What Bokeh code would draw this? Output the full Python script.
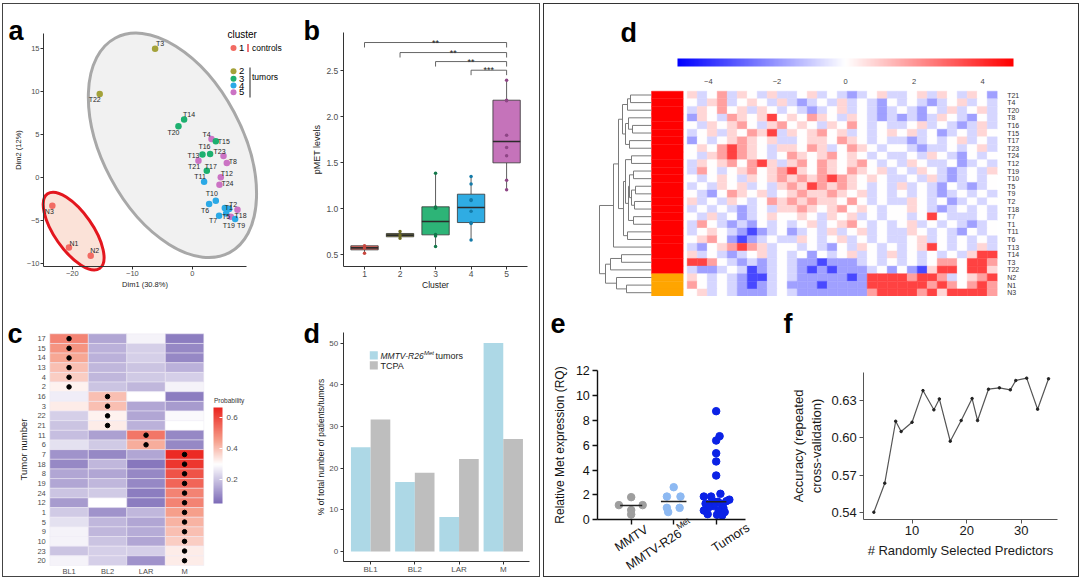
import numpy as np
from bokeh.plotting import figure
from bokeh.models import (Range1d, LinearAxis, FixedTicker, Label, ColorBar, Spacer,
                          LinearColorMapper, NumeralTickFormatter, ColumnDataSource)
from bokeh.layouts import row, column
from bokeh.embed import file_html
from bokeh.resources import INLINE
from bokeh.core.properties import value

FONT = "Liberation Sans"

# ================= DATA =================
# --- a: PCA ---
pca_names = ["T3", "T22", "T14", "T20", "T4", "T15", "T16", "T21", "T23", "T13",
             "T8", "T17", "T12", "T24", "T11", "T10", "T6", "T1", "T2", "T5",
             "T18", "T7", "T19", "T9", "N3", "N1", "N2"]
pca_dim1 = [-6.22, -15.44, -1.39, -2.33, 3.17, 3.89, 1.67, 2.94, 5.17, 1.00,
            5.72, 2.39, 4.72, 4.50, 1.94, 3.89, 2.78, 5.39, 6.11, 5.61,
            7.50, 4.44, 6.39, 7.11, -23.33, -20.56, -16.94]
pca_dim2 = [14.92, 9.69, 6.71, 5.93, 4.46, 4.19, 2.64, 2.71, 2.48, 1.94,
            1.67, 0.78, 0.00, -0.85, -0.50, -2.71, -3.10, -3.57, -3.68, -4.19,
            -3.76, -4.46, -4.57, -4.84, -3.29, -8.14, -9.11]
pca_cluster = [2, 2, 3, 3, 5, 3, 3, 3, 5, 5,
               5, 3, 5, 5, 4, 4, 4, 4, 4, 4,
               5, 4, 5, 4, 1, 1, 1]
cluster_ids = [1, 2, 3, 4, 5]
ellipse_cx = [-3.33, -19.78]
ellipse_cy = [3.72, -6.24]

# --- b: pMET per cluster ---
box_q1 = [0.554, 0.696, 0.717, 0.851, 1.500]
box_med = [0.576, 0.714, 0.862, 1.014, 1.732]
box_q3 = [0.598, 0.732, 1.022, 1.159, 2.181]
box_lo = [0.518, 0.681, 0.590, 0.660, 1.207]
box_hi = [0.598, 0.754, 1.388, 1.351, 2.399]
pmet_cluster = [1, 1, 1, 2, 2, 2, 3, 3, 3, 3, 3, 3, 4, 4, 4, 4, 4, 4, 4, 4,
                5, 5, 5, 5, 5, 5, 5, 5]
pmet_value = [0.598, 0.575, 0.518, 0.754, 0.714, 0.681,
              1.388, 1.020, 1.005, 0.720, 0.705, 0.590,
              1.351, 1.270, 1.100, 1.090, 0.975, 0.850, 0.840, 0.660,
              2.399, 2.181, 2.175, 1.800, 1.667, 1.576, 1.312, 1.207]
sig_from = [1, 2, 3, 4]
sig_to = [5, 5, 5, 5]
sig_y = [2.808, 2.699, 2.601, 2.507]
sig_text = ["**", "**", "**", "***"]

# --- c: subtype probabilities ---
tumor_ids = ["17", "15", "14", "13", "4", "2", "16", "3", "22", "21", "11", "6",
             "7", "18", "8", "19", "24", "12", "1", "5", "9", "10", "23", "20"]
subtypes = ["BL1", "BL2", "LAR", "M"]
prob_BL1 = [0.50, 0.47, 0.44, 0.40, 0.38, 0.32, 0.27, 0.33, 0.22, 0.20, 0.19, 0.25,
            0.12, 0.10, 0.15, 0.15, 0.20, 0.13, 0.21, 0.25, 0.28, 0.28, 0.20, 0.28]
prob_BL2 = [0.15, 0.17, 0.17, 0.18, 0.18, 0.20, 0.40, 0.40, 0.32, 0.33, 0.14, 0.21,
            0.10, 0.18, 0.15, 0.18, 0.21, 0.30, 0.12, 0.18, 0.18, 0.20, 0.22, 0.22]
prob_LAR = [0.28, 0.22, 0.22, 0.20, 0.21, 0.18, 0.30, 0.15, 0.15, 0.17, 0.52, 0.43,
            0.15, 0.07, 0.10, 0.10, 0.08, 0.08, 0.18, 0.15, 0.16, 0.15, 0.22, 0.12]
prob_M = [0.08, 0.10, 0.10, 0.17, 0.22, 0.28, 0.08, 0.13, 0.29, 0.30, 0.10, 0.10,
          0.65, 0.63, 0.58, 0.55, 0.50, 0.50, 0.45, 0.42, 0.40, 0.38, 0.33, 0.33]

# --- d (left): subtype distribution ---
tnbc_types = ["BL1", "BL2", "LAR", "M"]
pct_mmtv = [25.0, 16.7, 8.3, 50.0]
pct_tcpa = [31.7, 18.9, 22.2, 27.0]

# --- d (right): expression heatmap ---
heat_rows = ["T21", "T4", "T20", "T8", "T16", "T15", "T17", "T23", "T24", "T12",
             "T19", "T10", "T5", "T9", "T2", "T18", "T7", "T1", "T11", "T6",
             "T13", "T14", "T3", "T22", "N2", "N1", "N3"]
heat_group = ["T"] * 24 + ["N"] * 3
heat_code_value = {"B": -3.5, "b": -1.8, "l": -0.8, ".": 0.0, "p": 0.8, "r": 1.8, "R": 3.6}
heat_codes = [
    "pl.rlp.lpl" "l.pl.lbl.pl" "l.plp.lp.b",
    ".lprl.p.lp" "lbl.lpl.lb." "l.lbl.pl.l",
    "lp.r.plp.l" ".lbl.pl.lbl" ".lb.lpl.pl",
    "bp.lrp.pR." "p.rp.lp.lbl" "blblp.lb.l",
    ".lp.pr.lpr" ".p.lp.r.l.l" "l.pl.lblpl",
    "l.plp.rpRl" "p.pr.pl.l.p" ".pl.bl.lp.",
    "b.l.prp.pl" "l.pp.rp.l.l" "lbl.l.pl.l",
    ".p.rRrp.lp" "p.rpl.rp.l." ".lbll.l.pl",
    ".lprRrp.l." "rp.pr.p.l.l" "l.lp.lb.l.",
    "lp.pr.rRpl" "pr.rp.pr.l." "lp.ll.bl.l",
    "lr.l.pr.pr" "Rp.rp.rp.pl" ".lp.lbl.lp",
    ".l.p.lp.pr" "prprRrp.p.l" "l.lplbl.l.",
    "l.lp.pl.lp" "rpRrprp.l.l" "pl.lb.lbl.",
    ".lb.rp.pl." "prpprp.pl.l" ".l.lbl.l.l",
    "pl.lp.l.rp" "rprpp.r.l.l" "lp.l.bl.l.",
    "l.l.lbl.lp" "prp.pr.p.l." ".p.lbl.l.l",
    ".lpl.bl.p." ".p.lp.pl.l." ".l.R.lll.l",
    "lr.lblb.l." "l.pl.pr.l.l" ".pl.l.lbl.",
    "l.p.lbBbl." "bl.lpl.pl.l" "lp.l.lb.l.",
    ".pr.bBbl.l" "lp.l.pl.l.l" "l.pl.l.l.l",
    "lb.prRrpl." ".l.lb.lp.l." "l.pR.l.lpl",
    "pl.lbl.pl." "l.b.l.pl.lp" "l.l.l.lpRR",
    "RRr.lblbl." "lbbBbbbl.l." "l.l.rr.RRr",
    "lbbl.lBbl." "lbBbBbbbl.b" ".bBpRR.RRp",
    "p.l.lbBBl." "lbbbbbBbRRR" "RrRRrl.prR",
    "r.l.lbBbl." "bbbBbbbbRRR" "RRRrRr.rRr",
    ".pl.lbbbl." "lbbbbbbbrRR" "RRrRpRRRRr",
]
# hierarchical merges (child a, child b, height); leaves 0..26 in display order
dendro_merges = [
    (0, 1, 21), (27, 2, 24), (4, 5, 19), (3, 29, 23), (6, 7, 22), (30, 31, 26),
    (28, 32, 29), (8, 9, 20), (10, 11, 18), (12, 13, 16), (14, 15, 17), (36, 37, 20),
    (35, 38, 22), (16, 17, 18), (39, 40, 23), (34, 41, 26), (18, 19, 24), (42, 43, 28),
    (33, 44, 33), (45, 20, 38), (21, 22, 30), (47, 23, 41), (25, 26, 25), (24, 49, 35),
    (48, 50, 46), (46, 51, 52),
]

# --- e: Met expression ---
expr_groups = ["MMTV", "MMTV-R26Met", "Tumors"]
expr_mmtv = [1.82, 1.18, 1.18, 0.78, 0.43]
expr_mmtv_dx = [0.0, -0.29, 0.27, 0.0, 0.0]
expr_r26 = [2.62, 1.87, 1.87, 0.96, 0.96, 0.62]
expr_r26_dx = [0.0, -0.16, 0.16, -0.16, 0.14, -0.13]
expr_tum = [8.73, 6.72, 6.37, 5.35, 4.69, 3.56, 2.09, 1.87, 1.87, 1.62, 1.55, 1.50,
            1.45, 1.30, 1.29, 1.10, 1.02, 0.95, 0.75, 0.72, 0.62, 0.45, 0.40, 0.35]
expr_tum_dx = [0.0, 0.08, 0.0, 0.0, 0.0, 0.0, 0.10, -0.12, -0.29, 0.31, -0.09, 0.24,
               0.04, -0.25, 0.12, -0.05, -0.17, 0.17, -0.29, 0.06, 0.20, -0.20, 0.02, 0.14]
expr_center = [1.15, 1.47, 1.45]

# --- f: accuracy vs mtry ---
mtry = [3, 5, 7, 8, 10, 12, 14, 15, 17, 19, 21, 22, 24, 26, 28, 29, 31, 33, 35]
accuracy = [0.540, 0.5634, 0.6133, 0.605, 0.6125, 0.638, 0.6225, 0.6313, 0.5972, 0.6139,
            0.6316, 0.6139, 0.6391, 0.6402, 0.6386, 0.6461, 0.648, 0.623, 0.6475]


# ================= HELPERS =================
def make_fig(w, h, box, xr, yr, axes=True):
    """Frame fills the whole canvas; axes are pinned to the edges of `box`."""
    fl, fr, ft, fb = box
    sx = (xr[1] - xr[0]) / (fr - fl)
    sy = (yr[1] - yr[0]) / (fb - ft)
    X0, X1 = xr[0] - fl * sx, xr[1] + (w - fr) * sx
    Y0, Y1 = yr[0] - (h - fb) * sy, yr[1] + ft * sy
    kw = {} if axes else dict(x_axis_location=None, y_axis_location=None)
    p = figure(width=w, height=h, x_range=Range1d(X0, X1), y_range=Range1d(Y0, Y1),
               output_backend="svg", toolbar_location=None, title=None,
               min_border_left=0, min_border_right=0, min_border_top=0,
               min_border_bottom=0, **kw)
    p.outline_line_color = None
    p.grid.visible = False
    if axes:
        p.xaxis.fixed_location = yr[0]
        p.xaxis.bounds = tuple(xr)
        p.yaxis.fixed_location = xr[0]
        p.yaxis.bounds = tuple(yr)
    return p, (w, h, (X0, X1), (Y0, Y1))


def to_data(g, x, y):
    w, h, (x0, x1), (y0, y1) = g
    return x0 + x / w * (x1 - x0), y1 - y / h * (y1 - y0)


def add_label(p, g, x, y, text, size, style="normal", align="left",
              baseline="alphabetic", color="black", angle=0.0):
    dx, dy = to_data(g, x, y)
    p.add_layout(Label(x=dx, y=dy, text=text, text_font=FONT,
                       text_font_size=f"{size}px", text_font_style=style,
                       text_align=align, text_baseline=baseline,
                       text_color=color, angle=angle))


def letter(p, g, x, y, ch):
    add_label(p, g, x, y, ch, 27, style="bold")


def style_axes(p, tick_px, label_px, tick_color="#4d4d4d", label_color="#1a1a1a",
               line_color="#333333", tick_out=3, lab_sd=2, ax_sd=2, lw=1.0):
    for ax in p.axis:
        ax.axis_label_text_font = FONT
        ax.axis_label_text_font_style = "normal"
        ax.axis_label_text_font_size = f"{label_px}px"
        ax.axis_label_text_color = label_color
        ax.axis_label_standoff = ax_sd
        ax.major_label_text_font = FONT
        ax.major_label_text_font_size = f"{tick_px}px"
        ax.major_label_text_color = tick_color
        ax.major_label_standoff = lab_sd
        ax.minor_tick_line_color = None
        ax.major_tick_in = 0
        ax.major_tick_out = tick_out
        ax.axis_line_color = line_color
        ax.axis_line_width = lw
        ax.major_tick_line_color = line_color
        ax.major_tick_line_width = lw


def interp_palette(stops, n=256):
    pos = np.array([s[0] for s in stops])
    cols = np.array([s[1] for s in stops], dtype=float)
    out = []
    for ti in np.linspace(0, 1, n):
        rgb = [np.interp(ti, pos, cols[:, k]) for k in range(3)]
        out.append("#%02x%02x%02x" % tuple(int(round(v)) for v in rgb))
    return out


cl_colors = ["#F26B63", "#A3A23A", "#1DB06F", "#2BA9E6", "#CB73C4"]
box_fill = ["#E8645C", "#9C9B3A", "#22B070", "#24A8E2", "#C26CB6"]
pt_dark = ["#C8473F", "#6F6E1F", "#12784A", "#137AA8", "#8E4685"]

# ================= PANEL a =================
pa, ga = make_fig(297, 286, (40, 243, 29, 262), (-24.8, 9.0), (-10.35, 16.7))
pa.ellipse(x=ellipse_cx, y=ellipse_cy, width=[243, 91], height=[140, 38], angle=[-62, -55],
           width_units="screen", height_units="screen", angle_units="deg",
           fill_color=["#F1F1F1", "#FBE2D8"], line_color=["#A8A8A8", "#E3161E"], line_width=3)
pa.scatter(pca_dim1, pca_dim2, size=6.5, fill_color=[cl_colors[c - 1] for c in pca_cluster],
           line_color=None)
lbl_dx = [5, -5, 5, -5, -5, 8, 2, -16, -4, -5, 6, 4, 6, 8, -4, -4, -4, 4, 4, 0, 3, -6, -2, 6, -3, 5, 4]
lbl_dy = [-5, 6, -5, 6, -4, 0, -8, 12, -4, -5, -1, -4, -4, -1, -5, -7, 6, -1, -5, 3, 6, 5, 9, 6, 6, -4, -5]
pa.text(x=pca_dim1, y=pca_dim2, text=pca_names, x_offset=lbl_dx, y_offset=lbl_dy,
        text_font=value(FONT), text_font_size="7px", text_align="center",
        text_baseline="middle", text_color="#262626")
pa.xaxis.ticker = FixedTicker(ticks=[-20, -10, 0])
pa.yaxis.ticker = FixedTicker(ticks=[-10, -5, 0, 5, 10, 15])
pa.xaxis.axis_label = "Dim1 (30.8%)"
pa.yaxis.axis_label = "Dim2 (12%)"
style_axes(pa, 7.5, 7.5, lab_sd=1, ax_sd=1)
add_label(pa, ga, 224, 30, "cluster", 10)
leg_y = [43.5, 66.7, 74.3, 81.0, 87.7]
for c, ly in zip(cluster_ids, leg_y):
    dx, dy = to_data(ga, 230, ly)
    pa.scatter([dx], [dy], size=6, fill_color=cl_colors[c - 1], line_color=None)
    add_label(pa, ga, 235.5, ly, str(c), 9.5, baseline="middle")
x0, y0 = to_data(ga, 244.5, 39.5)
x1, y1 = to_data(ga, 244.5, 47.5)
pa.segment(x0=[x0], y0=[y0], x1=[x1], y1=[y1], line_color="#E3161E", line_width=1.2)
x0, y0 = to_data(ga, 246.5, 63)
x1, y1 = to_data(ga, 246.5, 93)
pa.segment(x0=[x0], y0=[y0], x1=[x1], y1=[y1], line_color="#222222", line_width=1)
add_label(pa, ga, 248.5, 43.5, "controls", 8.5, baseline="middle")
add_label(pa, ga, 248.5, 72, "tumors", 8.5, baseline="middle")
letter(pa, ga, 5, 26.5, "a")

# ================= PANEL b =================
pb, gb = make_fig(239, 286, (42.7, 226.7, 28, 262), (0.4, 5.58), (0.373, 2.917))
pb.segment(x0=cluster_ids, y0=box_q3, x1=cluster_ids, y1=box_hi, line_color="#333333", line_width=0.8)
pb.segment(x0=cluster_ids, y0=box_q1, x1=cluster_ids, y1=box_lo, line_color="#333333", line_width=0.8)
pb.vbar(x=cluster_ids, width=0.77, bottom=box_q1, top=box_q3, fill_color=box_fill,
        fill_alpha=0.95, line_color="#333333", line_width=0.8)
pb.segment(x0=[c - 0.385 for c in cluster_ids], x1=[c + 0.385 for c in cluster_ids],
           y0=box_med, y1=box_med, line_color="#2b2b2b", line_width=1.6)
pb.scatter(pmet_cluster, pmet_value, size=3.5, line_color=None,
           fill_color=[pt_dark[c - 1] for c in pmet_cluster])
drop = 0.054
pb.segment(x0=sig_from, x1=sig_to, y0=sig_y, y1=sig_y, line_color="#555555", line_width=0.9)
pb.segment(x0=sig_from, x1=sig_from, y0=sig_y, y1=[v - drop for v in sig_y], line_color="#555555", line_width=0.9)
pb.segment(x0=sig_to, x1=sig_to, y0=sig_y, y1=[v - drop for v in sig_y], line_color="#555555", line_width=0.9)
pb.text(x=[(a + b) / 2 for a, b in zip(sig_from, sig_to)], y=sig_y, text=sig_text,
        text_font=value(FONT), text_font_size="9px", text_align="center",
        text_baseline="alphabetic", text_color="#222222")
pb.xaxis.ticker = FixedTicker(ticks=cluster_ids)
pb.yaxis.ticker = FixedTicker(ticks=[0.5, 1.0, 1.5, 2.0, 2.5])
pb.yaxis.formatter = NumeralTickFormatter(format="0.0")
pb.xaxis.axis_label = "Cluster"
pb.yaxis.axis_label = "pMET levels"
style_axes(pb, 8.5, 9)
pb.xaxis.major_label_standoff = 1
pb.xaxis.axis_label_standoff = 0
pb.xaxis.axis_label_text_font_size = "8.5px"
letter(pb, gb, 3, 26.5, "b")

# ================= PANEL c =================
pc, gc = make_fig(267, 286, (46.3, 200.3, 43.3, 275), (-0.5, 3.5), (-0.5, 23.5))
pal_c = interp_palette([(0.0, (124, 106, 183)), (0.409, (255, 255, 255)),
                        (0.653, (246, 160, 140)), (1.0, (235, 35, 30))])
map_c = LinearColorMapper(palette=pal_c, low=0.048, high=0.664)
probs = [prob_BL1, prob_BL2, prob_LAR, prob_M]
cx, cy, cv = [], [], []
for j, col in enumerate(probs):
    for i, v in enumerate(col):
        cx.append(j)
        cy.append(23 - i)
        cv.append(v)
src_c = ColumnDataSource(dict(x=cx, y=cy, v=cv))
pc.rect(x="x", y="y", width=1, height=1, source=src_c,
        fill_color={"field": "v", "transform": map_c}, line_color="#EEEAF4", line_width=0.5)
best = [int(np.argmax([probs[j][i] for j in range(4)])) for i in range(len(tumor_ids))]
pc.scatter(best, [23 - i for i in range(len(tumor_ids))], size=4.5, color="black")
pc.xaxis.ticker = FixedTicker(ticks=[0, 1, 2, 3])
pc.xaxis.major_label_overrides = {j: s for j, s in enumerate(subtypes)}
pc.yaxis.ticker = FixedTicker(ticks=list(range(24)))
pc.yaxis.major_label_overrides = {23 - i: t for i, t in enumerate(tumor_ids)}
pc.yaxis.axis_label = "Tumor number"
style_axes(pc, 7.5, 9.5, tick_out=0, lab_sd=4, ax_sd=5)
pc.xaxis.major_label_standoff = 1
pc.xaxis.axis_line_color = None
pc.yaxis.axis_line_color = None
cb_c = ColorBar(color_mapper=map_c, location=(210, 73), width=9, height=96,
                ticker=FixedTicker(ticks=[0.2, 0.4, 0.6]),
                major_label_text_font=FONT, major_label_text_font_size="8px",
                major_label_text_color="#4d4d4d", label_standoff=4,
                major_tick_line_color="white", major_tick_in=3, major_tick_out=0,
                padding=0, margin=0, background_fill_color=None, border_line_color=None,
                bar_line_color=None)
pc.add_layout(cb_c)
add_label(pc, gc, 210.5, 110, "Probability", 6.5, baseline="middle", color="#333333")
letter(pc, gc, 4, 43.3, "c")

# ================= PANEL d (bars) =================
pdb, gd = make_fig(269, 286, (72.7, 259.3, 41.7, 270.7), (0.38, 4.6), (-2.3, 52.6))
xs = list(range(1, len(tnbc_types) + 1))
pdb.vbar(x=[x - 0.2225 for x in xs], width=0.445, bottom=0, top=pct_mmtv,
         fill_color="#ADD8E6", line_color=None)
pdb.vbar(x=[x + 0.2225 for x in xs], width=0.445, bottom=0, top=pct_tcpa,
         fill_color="#BEBEBE", line_color=None)
pdb.xaxis.ticker = FixedTicker(ticks=xs)
pdb.xaxis.major_label_overrides = {x: t for x, t in zip(xs, tnbc_types)}
pdb.yaxis.ticker = FixedTicker(ticks=[0, 10, 20, 30, 40, 50])
pdb.yaxis.axis_label = "% of total number of patients/tumors"
style_axes(pdb, 8, 8.5, ax_sd=1)
pdb.xaxis.major_label_standoff = 1
for (yt, yb_, colr) in [(60.7, 69.0, "#ADD8E6"), (70.7, 79.0, "#BEBEBE")]:
    l_, t_ = to_data(gd, 99.3, yt)
    r_, b_ = to_data(gd, 107.3, yb_)
    pdb.quad(left=[l_], right=[r_], top=[t_], bottom=[b_], fill_color=colr, line_color=None)
add_label(pdb, gd, 110, 65, "MMTV-R26", 8.5, style="italic", baseline="middle", color="#222222")
add_label(pdb, gd, 153.5, 62, "Met", 6, style="italic", baseline="middle", color="#222222")
add_label(pdb, gd, 165, 65, "tumors", 9, baseline="middle", color="#222222")
add_label(pdb, gd, 110, 75, "TCPA", 9, baseline="middle", color="#222222")
letter(pdb, gd, 33, 43, "d")

# ================= PANEL d (heatmap) =================
ph, gh = make_fig(534, 292, (142.7, 452.7, 86.7, 292), (-0.5, 30.5), (-0.5, 26.5), axes=False)
pal_h = interp_palette([(0.0, (0, 0, 255)), (0.5, (255, 255, 255)), (1.0, (255, 0, 0))])
map_h = LinearColorMapper(palette=pal_h, low=-4.9, high=4.9)
hx, hy, hv = [], [], []
for i, codes in enumerate(heat_codes):
    for j, ch in enumerate(codes):
        hx.append(j)
        hy.append(26 - i)
        hv.append(heat_code_value[ch])
src_h = ColumnDataSource(dict(x=hx, y=hy, v=hv))
ph.rect(x="x", y="y", width=1, height=1, source=src_h,
        fill_color={"field": "v", "transform": map_h},
        line_color={"field": "v", "transform": map_h}, line_width=0.4)
side_col = ["#FF0000" if g == "T" else "#FFA500" for g in heat_group]
ph.rect(x=[-2.485] * len(heat_rows), y=[26 - i for i in range(len(heat_rows))], width=3.17,
        height=1, fill_color=side_col, line_color=side_col, line_width=0.4)
ph.extra_x_ranges = {"dendro": Range1d(start=107, end=107 - 534)}
nodes = {i: (0.0, 26 - i) for i in range(len(heat_rows))}
sx0, sy0, sx1, sy1 = [], [], [], []
for k, (a, b, hgt) in enumerate(dendro_merges):
    ha, ya = nodes[a]
    hb, yb = nodes[b]
    sx0 += [ha, hb, hgt]
    sy0 += [ya, yb, ya]
    sx1 += [hgt, hgt, hgt]
    sy1 += [ya, yb, yb]
    nodes[len(heat_rows) + k] = (hgt, (ya + yb) / 2)
ph.segment(x0=sx0, y0=sy0, x1=sx1, y1=sy1, x_range_name="dendro",
           line_color="#7a7a7a", line_width=1)
rax = LinearAxis(ticker=FixedTicker(ticks=list(range(27))),
                 major_label_overrides={26 - i: r for i, r in enumerate(heat_rows)})
rax.fixed_location = 30.5
rax.axis_line_color = None
rax.major_tick_line_color = None
rax.major_tick_out = 0
rax.major_tick_in = 0
rax.minor_tick_line_color = None
rax.major_label_standoff = 10
rax.major_label_text_font = FONT
rax.major_label_text_font_size = "7px"
rax.major_label_text_color = "#333333"
ph.add_layout(rax, "right")
cb_h = ColorBar(color_mapper=map_h, orientation="horizontal", location=(133, 210),
                width=336, height=8, ticker=FixedTicker(ticks=[-4, -2, 0, 2, 4]),
                major_label_text_font=FONT, major_label_text_font_size="7.5px",
                major_label_text_color="#444444", label_standoff=12,
                major_tick_in=0, major_tick_out=0, padding=0, margin=0,
                background_fill_color=None, border_line_color=None, bar_line_color=None)
ph.add_layout(cb_h)
letter(ph, gh, 76, 28, "d")

# ================= PANEL e =================
pe, ge = make_fig(226, 280, (53.3, 201, 74, 223.3), (0.214, 3.69), (0.0, 12.0))
pe.scatter([1 + d for d in expr_mmtv_dx], expr_mmtv, size=7.5, color="#9E9E9E")
pe.scatter([2 + d for d in expr_r26_dx], expr_r26, size=7.5, color="#8DB9F2")
pe.scatter([3 + d for d in expr_tum_dx], expr_tum, size=7.5, color="#0B22E6")
half = [0.26, 0.30, 0.24]
pe.segment(x0=[i + 1 - h for i, h in enumerate(half)], x1=[i + 1 + h for i, h in enumerate(half)],
           y0=expr_center, y1=expr_center, line_color="#222222", line_width=1.3)
pe.yaxis.ticker = FixedTicker(ticks=[0, 2, 4, 6, 8, 10, 12])
pe.xaxis.ticker = FixedTicker(ticks=[1, 2, 3])
pe.xaxis.major_label_overrides = {1: "", 2: "", 3: ""}
pe.yaxis.axis_label = "Relative Met expression (RQ)"
style_axes(pe, 12.5, 12, tick_color="#111111", label_color="#111111", line_color="#111111",
           tick_out=5, lab_sd=3, ax_sd=6, lw=1.4)
ang = 0.576
add_label(pe, ge, 98.5, 226, "MMTV", 12.5, align="right", baseline="top", angle=ang, color="#111111")
add_label(pe, ge, 132, 230, "MMTV-R26", 12.5, align="right", baseline="top", angle=ang, color="#111111")
add_label(pe, ge, 129.8, 226.6, "Met", 8.5, align="left", baseline="top", angle=ang, color="#111111")
add_label(pe, ge, 200, 224, "Tumors", 12.5, align="right", baseline="top", angle=ang, color="#111111")
letter(pe, ge, 6, 27, "e")

# ================= PANEL f =================
pf, gf = make_fig(308, 280, (93.3, 287.3, 75.7, 222.7), (1.16, 36.7), (0.5344, 0.6528))
pf.line(mtry, accuracy, line_color="#555555", line_width=1.2)
pf.scatter(mtry, accuracy, size=2.5, color="#222222")
pf.xaxis.ticker = FixedTicker(ticks=[10, 20, 30])
pf.yaxis.ticker = FixedTicker(ticks=[0.54, 0.57, 0.60, 0.63])
pf.yaxis.formatter = NumeralTickFormatter(format="0.00")
pf.xaxis.axis_label = "# Randomly Selected Predictors"
pf.yaxis.axis_label = "Accuracy (repeated\ncross-validation)"
style_axes(pf, 13, 13, tick_color="#1a1a1a", label_color="#1a1a1a", line_color="#555555",
           tick_out=4, lab_sd=3, ax_sd=4)
letter(pf, gf, 13, 27, "f")

# ================= LAYOUT =================
left_box = column(row(pa, pb), row(pc, pdb), styles={"border": "1px solid #444444"})
right_box = column(ph, row(pe, pf), styles={"border": "1px solid #333333"})
page = column(Spacer(height=3), row(Spacer(width=2), left_box, Spacer(width=3), right_box))

open("out.html", "w").write(file_html(page, INLINE))
